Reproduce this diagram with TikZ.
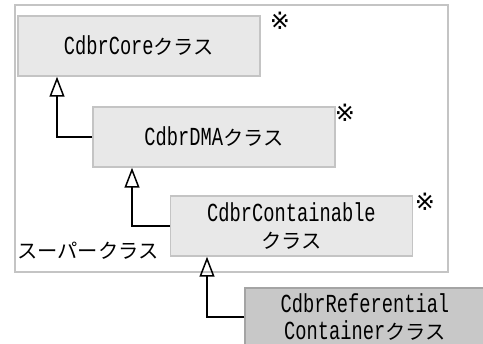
\documentclass[tikz,border=0pt]{standalone}
\usepackage{fontspec}
\setmainfont{Liberation Mono}[FakeStretch=0.72]
\newfontfamily\jp{Noto Sans CJK JP}[Scale=0.78]
\newfontfamily\kome{DejaVu Sans}
\usetikzlibrary{arrows.meta}
\definecolor{boxfill}{HTML}{E8E8E8}
\definecolor{boxline}{HTML}{C4C4C4}
\definecolor{subfill}{HTML}{C8C8C8}
\definecolor{subline}{HTML}{A4A4A4}

\begin{document}
\begin{tikzpicture}[x=1pt,y=-1pt,font=\fontsize{26}{27}\selectfont]
   \useasboundingbox (0,0) rectangle (483,344);
   \tikzstyle{cls}=[draw=boxline, fill=boxfill, line width=1.5pt, minimum width=242pt, minimum height=60pt, align=center, inner sep=0pt]
   \tikzstyle{inherit}=[line width=1.5pt, -{Triangle[open, length=20pt, width=15pt, line width=1.5pt]}]
   \tikzstyle{note}=[font=\kome\fontsize{24}{24}\selectfont, inner sep=0pt]
   % package frame
   \draw[boxline, line width=1.5pt] (15,5) rectangle (448,272);
   \node[anchor=west, inner sep=0pt] (super) at (17,251) {\jp\fontsize{26}{26}\selectfont スーパークラス};
   % classes
   \node[cls] (core) at (139,46) {CdbrCore{\jp クラス}};
   \node[cls] (dma) at (214,137) {CdbrDMA{\jp クラス}};
   \node[cls] (cont) at (291.5,226) {CdbrContainable\\{\jp クラス}};
   \node[cls, draw=subline, fill=subfill, minimum width=240pt, minimum height=58pt] (ref) at (365,317) {CdbrReferential\\Container{\jp クラス}};
   \node[note] (m1) at (280,21) {※};
   \node[note] (m2) at (345,113) {※};
   \node[note] (m3) at (425,202) {※};
   % generalization
   \coordinate (c1) at (57,137);
   \coordinate (c2) at (132,226);
   \coordinate (c3) at (207,317);
   \draw[inherit] (dma.west) -- (c1) -- (c1 |- core.south);
   \draw[inherit] (cont.west) -- (c2) -- (c2 |- dma.south);
   \draw[inherit] (ref.west) -- (c3) -- (c3 |- cont.south);
\end{tikzpicture}
\end{document}
